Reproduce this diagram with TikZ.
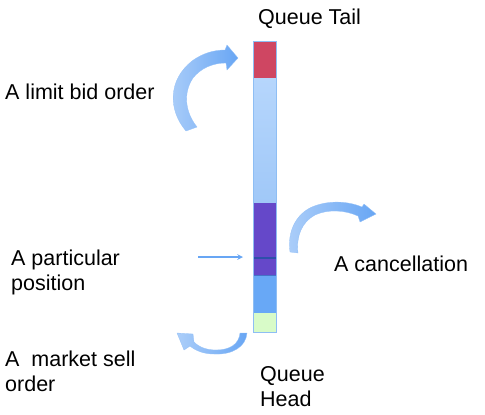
\documentclass[tikz,border=0pt]{standalone}
\usepackage{fontspec}
\setmainfont{Liberation Sans}
\definecolor{barred}{RGB}{207,70,98}
\definecolor{barlight}{RGB}{182,214,252}
\definecolor{barlightb}{RGB}{160,200,248}
\definecolor{barpurple}{RGB}{101,72,201}
\definecolor{barline}{RGB}{45,80,170}
\definecolor{barmid}{RGB}{104,168,246}
\definecolor{bargreen}{RGB}{216,251,200}
\definecolor{barout}{RGB}{142,190,244}
\definecolor{arrblue}{RGB}{104,166,244}
\begin{document}
\begin{tikzpicture}[x=1pt,y=-1pt,
  lbl/.style={anchor=base west,inner sep=0pt,font=\fontsize{21.5}{24.5}\selectfont,align=left},
  curvarrow/.style={left color=arrblue!55!white,right color=arrblue,draw=arrblue!70!white,line width=0.3pt}]
\useasboundingbox (0,0) rectangle (485,415);
% bar
\fill[barred] (253,41) rectangle (276,78);
\shade[top color=barlight,bottom color=barlightb] (253,78) rectangle (276,203);
\fill[barpurple] (253,203) rectangle (276,275);
\fill[barmid] (253,275) rectangle (276,313);
\fill[bargreen] (253,313) rectangle (276,332);
\fill[barline] (253,256.5) rectangle (276,258.5);
\fill[barline!60!barmid] (253,274.5) rectangle (276,276);
\draw[barout,line width=0.8pt] (253,41) rectangle (276,332);
\node[inner sep=0pt] (bar) at (264.5,186.5) {};
% labels
\node[lbl] (tail) at (258,24) {Queue Tail};
\node[lbl] (limit) at (5,99) {A limit bid order};
\node[lbl] (part) at (11,290) {A particular\\position};
\node[lbl] (canc) at (334,271) {A cancellation};
\node[lbl] (mkt) at (5,391) {A\ \ market sell\\order};
\node[lbl] (head) at (260,406) {Queue\\Head};
% particular position arrow
\coordinate (pstart) at (198,257);
\coordinate (pend) at (243,257);
\draw[arrblue,line width=1.5pt,-stealth] (pstart) -- (pend);
% limit bid curved arrow
\shade[curvarrow] (186,131) .. controls (168,110) and (168,80) .. (192,61)
  .. controls (203,53) and (214,50) .. (225,50)
  -- (227,45) -- (238,58) -- (227,70) -- (226,63)
  .. controls (213,63) and (201,68) .. (193,78)
  .. controls (183,93) and (185,112) .. (197,127) -- cycle;
% cancellation curved arrow
\shade[curvarrow] (290,252) .. controls (287,232) and (296,214) .. (312,207)
  .. controls (328,200) and (348,201) .. (362,207)
  -- (364,204) -- (376,214) -- (360,222) -- (358,216)
  .. controls (345,210) and (328,209) .. (315,215)
  .. controls (302,222) and (296,236) .. (298,253) -- cycle;
% market sell curved arrow
\shade[curvarrow] (247,333) .. controls (246,347) and (232,355) .. (214,354)
  .. controls (204,354) and (196,351) .. (190,346)
  -- (184,350) -- (177,333) -- (193,334) -- (194,342)
  .. controls (200,348) and (208,350) .. (216,350)
  .. controls (230,350) and (239,344) .. (240,333) -- cycle;
\end{tikzpicture}
\end{document}
